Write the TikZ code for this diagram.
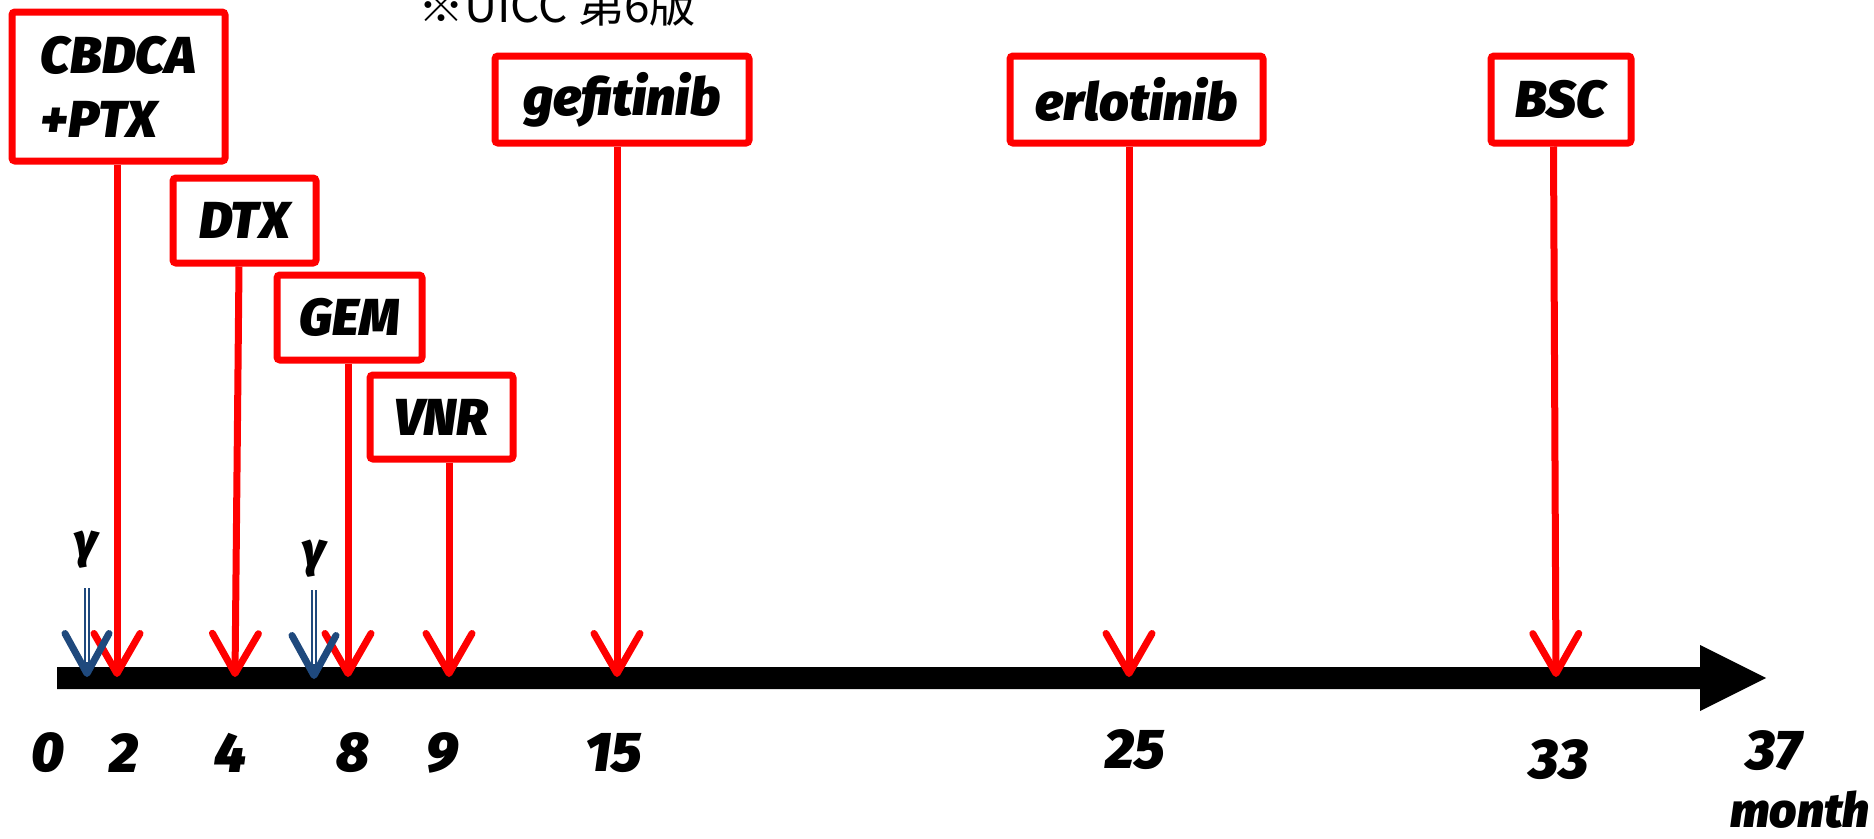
\documentclass[tikz,border=0pt]{standalone}
\usepackage{fontspec}
\setmainfont{Fira Sans}
\newfontfamily\heavy{Fira Sans Black Italic}
\newfontfamily\jpfont{Noto Sans CJK JP}
\usetikzlibrary{arrows.meta}
\definecolor{navy}{RGB}{31,73,125}
\tikzset{
  drugbox/.style={draw=red, line width=7pt, rounded corners=3pt, fill=white,
    inner sep=0pt, font=\heavy\fontsize{52}{64}\selectfont},
  startline/.style={draw=red, line width=7pt,
    -{Straight Barb[length=40pt,width=46pt,round]}},
  rayline/.style={draw=navy, line width=6pt,
    -{Straight Barb[length=40pt,width=44pt,round,line width=7pt]}},
  raycore/.style={draw=white, line width=1.6pt},
  tick/.style={inner sep=0pt, font=\heavy\fontsize{56}{60}\selectfont},
  gammalbl/.style={inner sep=0pt, font=\heavy\fontsize{48}{50}\selectfont},
}
\begin{document}
\begin{tikzpicture}[x=1pt,y=-1pt]
\useasboundingbox (0,0) rectangle (1874,838);

% note at the top edge
\node[anchor=base west, inner sep=0pt, font=\jpfont\fontsize{46}{50}\selectfont]
  (note) at (418,22) {※UICC 第6版};

% time axis
\fill (57,667) -- (1700,667) -- (1700,645) -- (1766,678) -- (1700,711)
  -- (1700,689) -- (57,689) -- cycle;

% points on the axis where treatments begin
\coordinate (t2)  at (117,677);
\coordinate (t4)  at (235,677);
\coordinate (t8)  at (348,677);
\coordinate (t9)  at (449,677);
\coordinate (t15) at (617,677);
\coordinate (t25) at (1129,677);
\coordinate (t33) at (1556,677);

% treatment boxes
\node[drugbox, minimum width=213pt, minimum height=149pt, align=left]
  (cbdca) at (118.5,86.5) {CBDCA\\+PTX};
\node[drugbox, minimum width=143pt, minimum height=85pt] (dtx) at (244.5,220.5) {DTX};
\node[drugbox, minimum width=145pt, minimum height=85pt] (gem) at (349.5,317.5) {GEM};
\node[drugbox, minimum width=143pt, minimum height=84pt] (vnr) at (441.5,417) {VNR};
\node[drugbox, minimum width=254pt, minimum height=87pt] (gef) at (622,99.5) {gefitinib};
\node[drugbox, minimum width=253pt, minimum height=87pt] (erl) at (1136.5,99.5) {erlotinib};
\node[drugbox, minimum width=140pt, minimum height=87pt] (bsc) at (1561,99.5) {BSC};

% arrows from each treatment down to its start month
\draw[startline] (cbdca.south -| t2) -- (t2);
\draw[startline] ([xshift=-5.5pt]dtx.south) -- (t4);
\draw[startline] (gem.south -| t8) -- (t8);
\draw[startline] (vnr.south -| t9) -- (t9);
\draw[startline] (gef.south -| t15) -- (t15);
\draw[startline] (erl.south -| t25) -- (t25);
\draw[startline] ([xshift=-7.5pt]bsc.south) -- (t33);

% radiotherapy marks
\coordinate (r1top) at (87,588);
\coordinate (r1tip) at (87,677);
\coordinate (r2top) at (314,590);
\coordinate (r2tip) at (314,679);
\node[gammalbl] (g1) at (86,550) {γ};
\node[gammalbl] (g2) at (314,559) {γ};
\draw[rayline] (r1top) -- (r1tip);
\draw[raycore] (r1top) -- ++(0,74);
\draw[rayline] (r2top) -- (r2tip);
\draw[raycore] (r2top) -- ++(0,74);

% month labels
\node[tick] (m0)  at (48,753)   {0};
\node[tick] (m2)  at (124,753)  {2};
\node[tick] (m4)  at (231,753)  {4};
\node[tick] (m8)  at (353,753)  {8};
\node[tick] (m9)  at (442,753)  {9};
\node[tick] (m15) at (614,753)  {15};
\node[tick] (m25) at (1135,750) {25};
\node[tick] (m33) at (1559,760) {33};
\node[tick] (m37) at (1774,751) {37};
\node[tick, font=\heavy\fontsize{48}{52}\selectfont, anchor=east] (unit) at (1870,810) {month};
\end{tikzpicture}
\end{document}
